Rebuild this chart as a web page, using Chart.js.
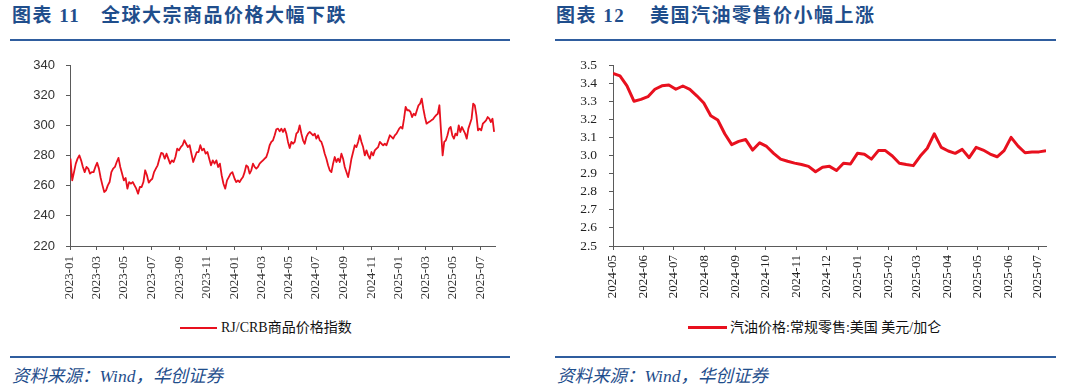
<!DOCTYPE html>
<html>
<head>
<meta charset="utf-8">
<script src="https://cdn.jsdelivr.net/npm/chart.js@4.4.1/dist/chart.umd.min.js"></script>
<style>
  body { margin: 0; background: #fff; }
  #page { position: relative; width: 1080px; height: 392px; overflow: hidden; background: #fff; }
  .abs { position: absolute; }
  .title { top: 4px; font-family: "Liberation Serif", "Noto Sans CJK SC", serif; font-weight: bold; font-size: 19px; color: #1f4e8c; letter-spacing: 1.5px; white-space: nowrap; line-height: 24px; }
  .rule { height: 2px; background: #2f5d9e; }
  .source { top: 365px; font-family: "Liberation Serif", "Noto Sans CJK SC", serif; font-style: italic; font-size: 17.5px; color: #1f4e8c; white-space: nowrap; line-height: 22px; }
  .legend-line { background: #e8101e; }
  .legend-text { font-family: "Liberation Serif", "Noto Sans CJK SC", serif; font-size: 14px; color: #111; white-space: nowrap; line-height: 18px; top: 319px; }
  canvas { position: absolute; top: 55px; }
</style>
</head>
<body>
<div id="page">
  <div class="abs title" style="left:12px">图表 11</div>
  <div class="abs title" style="left:101px">全球大宗商品价格大幅下跌</div>
  <div class="abs rule" style="left:10px; top:39px; width:500px"></div>

  <div class="abs title" style="left:556px">图表 12</div>
  <div class="abs title" style="left:650px">美国汽油零售价小幅上涨</div>
  <div class="abs rule" style="left:555px; top:39px; width:501px"></div>

  <canvas id="crb-chart" width="540" height="250" style="left:0"></canvas>
  <canvas id="gas-chart" width="540" height="250" style="left:540px"></canvas>

  <div class="abs legend-line" style="left:180px; top:327px; width:37px; height:2px"></div>
  <div class="abs legend-text" style="left:221px">RJ/CRB商品价格指数</div>

  <div class="abs legend-line" style="left:688px; top:326px; width:39px; height:3px"></div>
  <div class="abs legend-text" style="left:730px">汽油价格:常规零售:美国 美元/加仑</div>

  <div class="abs rule" style="left:10px; top:356px; width:500px"></div>
  <div class="abs source" style="left:12px">资料来源：Wind，华创证券</div>
  <div class="abs rule" style="left:555px; top:356px; width:501px"></div>
  <div class="abs source" style="left:557px">资料来源：Wind，华创证券</div>
</div>

<script>
// RJ/CRB 指数（按年份分段的采样值，读自原图）
const crb2023 = [277.9, 263.5, 269, 274.6, 277.9, 280.1, 276.8, 272.4, 269, 272.4, 271.3, 268, 269, 269, 272.4, 275.2,
  271.3, 265.1, 260.2, 255.8, 256.9, 260.2, 262.4, 269, 271.3, 272.4, 275.7, 278.4, 272.4, 268, 263.5, 265.1,
  258, 262.4, 261.3, 262.4, 260.2, 258, 254.7, 259.1, 259.1, 262.4, 270.2, 266.9, 262, 263.5, 264.6, 269,
  271.3, 273.5, 277.9, 281.7, 281.2, 277.9, 281.2, 277.9, 274.6, 276.8, 275.7, 279, 284.5,
  283.4, 285.6, 286.8, 290.1, 287.8, 285.6, 286.8, 281.2, 275.7, 279, 282.3, 282.3, 286.8, 283.4, 284.5, 281.2,
  282.3, 277.9, 273.5, 276.8, 274.6, 276.8, 272.4, 274.6, 266.9, 261.3, 258, 263.5, 265.7, 268, 269];
const crb2024 = [264.6, 262.4, 263.5, 262.4, 264.2, 265.7, 269, 273.5, 272.4, 268, 270.2, 274.6, 272.4, 271.3, 272.4, 274.6,
  275.7, 276.8, 277.9, 279, 282.3, 286.8, 289, 290.1, 293.4, 297.4, 297.8, 296, 297.8, 295.6, 297.8,
  294.5, 289, 285, 289, 287.8, 289, 294.5, 295.6, 300, 294.5, 290.1, 287.8, 292.3, 294.5, 295.6, 294.5,
  293.4, 294.5, 291.2, 293.4, 290.1, 289, 285.6, 281.2, 277.9, 273.5, 270.2, 269, 274.6, 279, 275.7, 277.9,
  275.7, 281.2, 277.9, 272.4, 269, 265.7, 271.3, 277.9, 282.3, 286.8, 285.6, 289, 293.4, 289, 285.6, 280.1,
  283.4, 280.1, 277.9, 282.3, 280.1, 283.4, 284.5, 285.6, 289, 287.8, 286.8, 287.8, 286.8, 290.1, 293.4, 292.3,
  291.2, 293.4, 294.5];
const crb2025 = [297.8, 298.9, 297.8, 304.4, 312.2, 310, 310, 308.9, 305.5, 307.7, 306.6, 310, 313.3, 314.4, 317.7, 311,
  305.5, 301.1, 301.8, 302.5, 303.3, 304, 305.5, 306.8, 307.7, 313.3, 296, 280.1, 289, 290.1, 293.4, 297.8,
  298.9, 293.4, 291.2, 294.5, 293.4, 300, 295.6, 298.9, 296.7, 294.5, 291.2, 297.8, 301.1, 304.4, 314.4, 313.3,
  306.6, 296.7, 297.8, 296.7, 301.1, 302.2, 303.3, 305.5, 304.4, 302.2, 304.4, 295.6];
const crbRanges = [['2023-01-02', '2023-12-28'], ['2024-01-02', '2024-12-27'], ['2025-01-02', '2025-08-01']];
const crbTickLabels = ['2023-01', '2023-03', '2023-05', '2023-07', '2023-09', '2023-11', '2024-01', '2024-03',
  '2024-05', '2024-07', '2024-09', '2024-11', '2025-01', '2025-03', '2025-05', '2025-07'];

// 美国常规汽油零售价（周度，美元/加仑）
const gasStart = '2024-05-01';
const gasValues = [3.454, 3.44, 3.385, 3.30, 3.31, 3.325, 3.366, 3.385, 3.39, 3.366, 3.384, 3.365, 3.33, 3.29, 3.22, 3.196,
  3.12, 3.06, 3.078, 3.088, 3.03, 3.07, 3.05, 3.012, 2.98, 2.968, 2.958, 2.95, 2.94, 2.91, 2.935, 2.94,
  2.917, 2.957, 2.953, 3.012, 3.007, 2.98, 3.027, 3.027, 2.997, 2.957, 2.95, 2.944, 2.997, 3.04, 3.12, 3.045,
  3.025, 3.012, 3.034, 2.988, 3.045, 3.03, 3.008, 2.993, 3.027, 3.10, 3.052, 3.015, 3.019, 3.02, 3.027];
const gasTickLabels = ['2024-05', '2024-06', '2024-07', '2024-08', '2024-09', '2024-10', '2024-11', '2024-12',
  '2025-01', '2025-02', '2025-03', '2025-04', '2025-05', '2025-06', '2025-07'];

const RED = '#e8101e';
const AXIS = '#5a5a5a';

// 日期 -> 天数
const toDay = s => Date.parse(s + 'T00:00:00Z') / 864e5;

// 每年的采样点在该年的起止日期之间平铺
function spreadPoints(values, range) {
  const a = toDay(range[0]), b = toDay(range[1]);
  return values.map((v, i) => ({ x: a + i * (b - a) / (values.length - 1), y: v }));
}

const crbPoints = [crb2023, crb2024, crb2025].flatMap((vals, k) => spreadPoints(vals, crbRanges[k]));
const gasPoints = gasValues.map((v, i) => ({ x: toDay(gasStart) + i * 7, y: v }));

function axisStyle(extra) {
  return Object.assign({
    grid: { display: true, drawOnChartArea: false, drawTicks: true, tickLength: 4, color: AXIS },
    border: { display: true, color: AXIS, width: 1 }
  }, extra);
}

// y 轴宽度固定，并去掉标签带来的上下留白，使绘图区与原图对齐
const fixY = width => s => { s.width = width; s.paddingTop = 0; s.paddingBottom = 0; };

function makeChart(id, points, lineWidth, xCfg, yCfg, padRight) {
  const ctx = document.getElementById(id).getContext('2d');
  return new Chart(ctx, {
    type: 'line',
    data: {
      datasets: [{
        data: points,
        borderColor: RED,
        borderWidth: lineWidth,
        pointRadius: 0,
        tension: 0,
        fill: false,
        borderJoinStyle: 'round'
      }]
    },
    options: {
      responsive: false,
      animation: false,
      layout: { padding: { top: 10, right: padRight, left: 0, bottom: 0 } },
      plugins: { legend: { display: false }, tooltip: { enabled: false } },
      scales: { x: xCfg, y: yCfg }
    }
  });
}

// 图表 11
makeChart('crb-chart', crbPoints, 1.8,
  axisStyle({
    type: 'linear',
    min: toDay('2023-01-01'),
    max: toDay('2025-08-03'),
    afterBuildTicks: s => { s.ticks = crbTickLabels.map(m => ({ value: toDay(m + '-01') })); },
    afterFit: s => { s.height = 59; },
    ticks: {
      autoSkip: false, minRotation: 90, maxRotation: 90, padding: 6, color: '#333',
      font: { family: 'Liberation Serif', size: 13 },
      callback: (v, i) => crbTickLabels[i]
    }
  }),
  axisStyle({
    min: 220, max: 340,
    afterFit: fixY(70),
    ticks: { stepSize: 20, autoSkip: false, padding: 11, color: '#333', font: { family: 'Liberation Sans', size: 13 } }
  }),
  45);

// 图表 12
makeChart('gas-chart', gasPoints, 3,
  axisStyle({
    type: 'linear',
    min: toDay(gasStart),
    max: gasPoints[gasPoints.length - 1].x,
    afterBuildTicks: s => { s.ticks = gasTickLabels.map(m => ({ value: toDay(m + '-01') })); },
    afterFit: s => { s.height = 59; },
    ticks: {
      autoSkip: false, minRotation: 90, maxRotation: 90, padding: 5, color: '#222',
      font: { family: 'Liberation Serif', size: 13 },
      callback: (v, i) => gasTickLabels[i]
    }
  }),
  axisStyle({
    min: 2.5, max: 3.5,
    afterFit: fixY(73),
    ticks: { stepSize: 0.1, autoSkip: false, padding: 12, color: '#222', font: { family: 'Liberation Serif', size: 13.5 },
      callback: v => v.toFixed(1) }
  }),
  34);
</script>
</body>
</html>
